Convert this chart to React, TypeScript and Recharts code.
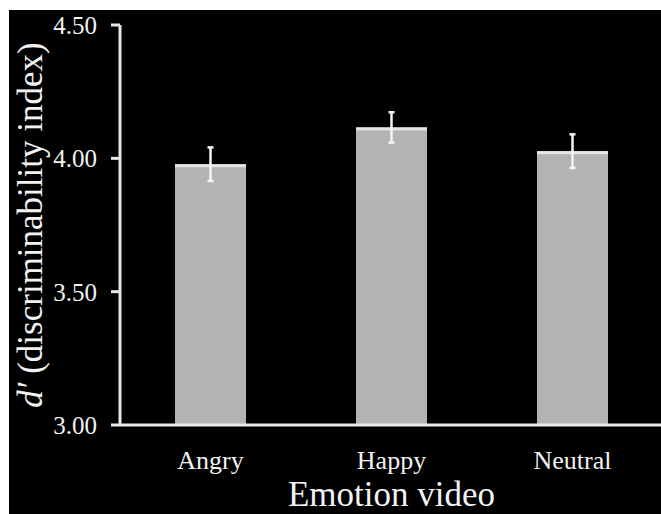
import { BarChart, Bar, XAxis, YAxis, ErrorBar } from 'recharts'

const emotions = ['Angry', 'Happy', 'Neutral']
const dPrime = [3.978, 4.116, 4.027]
const stdErr = [0.063, 0.057, 0.063]
const yTicks = [3.0, 3.5, 4.0, 4.5]

const chartData = emotions.map((name, i) => ({
  name,
  value: dPrime[i],
  err: stdErr[i],
}))

const FONT = "'Liberation Serif', 'DejaVu Serif', serif"

// gray bar with a lighter rim on top, as in the original figure
function GrayBar(props: any) {
  const { x, y, width, height } = props
  if (width == null || height == null) return null
  return (
    <g>
      <rect x={x} y={y} width={width} height={height} fill="#b3b3b3" />
      <rect x={x} y={y} width={width} height={3} fill="#e6e6e6" />
    </g>
  )
}

function YLabel() {
  return (
    <text
      x={33}
      y={215}
      transform="rotate(-90, 33, 215)"
      textAnchor="middle"
      fill="#f2f2f2"
      fontSize={35}
      style={{ fontFamily: FONT }}
    >
      <tspan fontStyle="italic">d′</tspan>
      <tspan> (discriminability index)</tspan>
    </text>
  )
}

export default function App() {
  return (
    <div
      style={{
        position: 'absolute',
        left: 9,
        top: 10,
        width: 652,
        height: 504,
        background: '#000',
        fontFamily: FONT,
      }}
    >
      <BarChart
        width={652}
        height={504}
        data={chartData}
        margin={{ top: 15, right: -2, bottom: 0, left: 0 }}
        barSize={71}
        style={{ fontFamily: FONT }}
      >
        <XAxis
          dataKey="name"
          height={89}
          tickLine={false}
          tickSize={0}
          tickMargin={26}
          axisLine={{ stroke: '#e8e8e8', strokeWidth: 3 }}
          tick={{ fill: '#f2f2f2', fontSize: 26, style: { fontFamily: FONT } }}
          label={{
            value: 'Emotion video',
            position: 'insideBottom',
            offset: 8,
            fill: '#f2f2f2',
            fontSize: 35,
            style: { fontFamily: FONT },
          }}
        />
        <YAxis
          width={111}
          domain={[3, 4.5]}
          ticks={yTicks}
          interval={0}
          tickSize={9}
          tickMargin={14}
          tickFormatter={(v: number) => v.toFixed(2)}
          axisLine={{ stroke: '#e8e8e8', strokeWidth: 3 }}
          tickLine={{ stroke: '#e8e8e8', strokeWidth: 3 }}
          tick={{ fill: '#f2f2f2', fontSize: 25, style: { fontFamily: FONT } }}
          label={<YLabel />}
        />
        <Bar dataKey="value" shape={GrayBar} isAnimationActive={false}>
          <ErrorBar
            dataKey="err"
            width={3}
            stroke="#f5f5f5"
            strokeWidth={2.5}
            direction="y"
          />
        </Bar>
      </BarChart>
    </div>
  )
}
